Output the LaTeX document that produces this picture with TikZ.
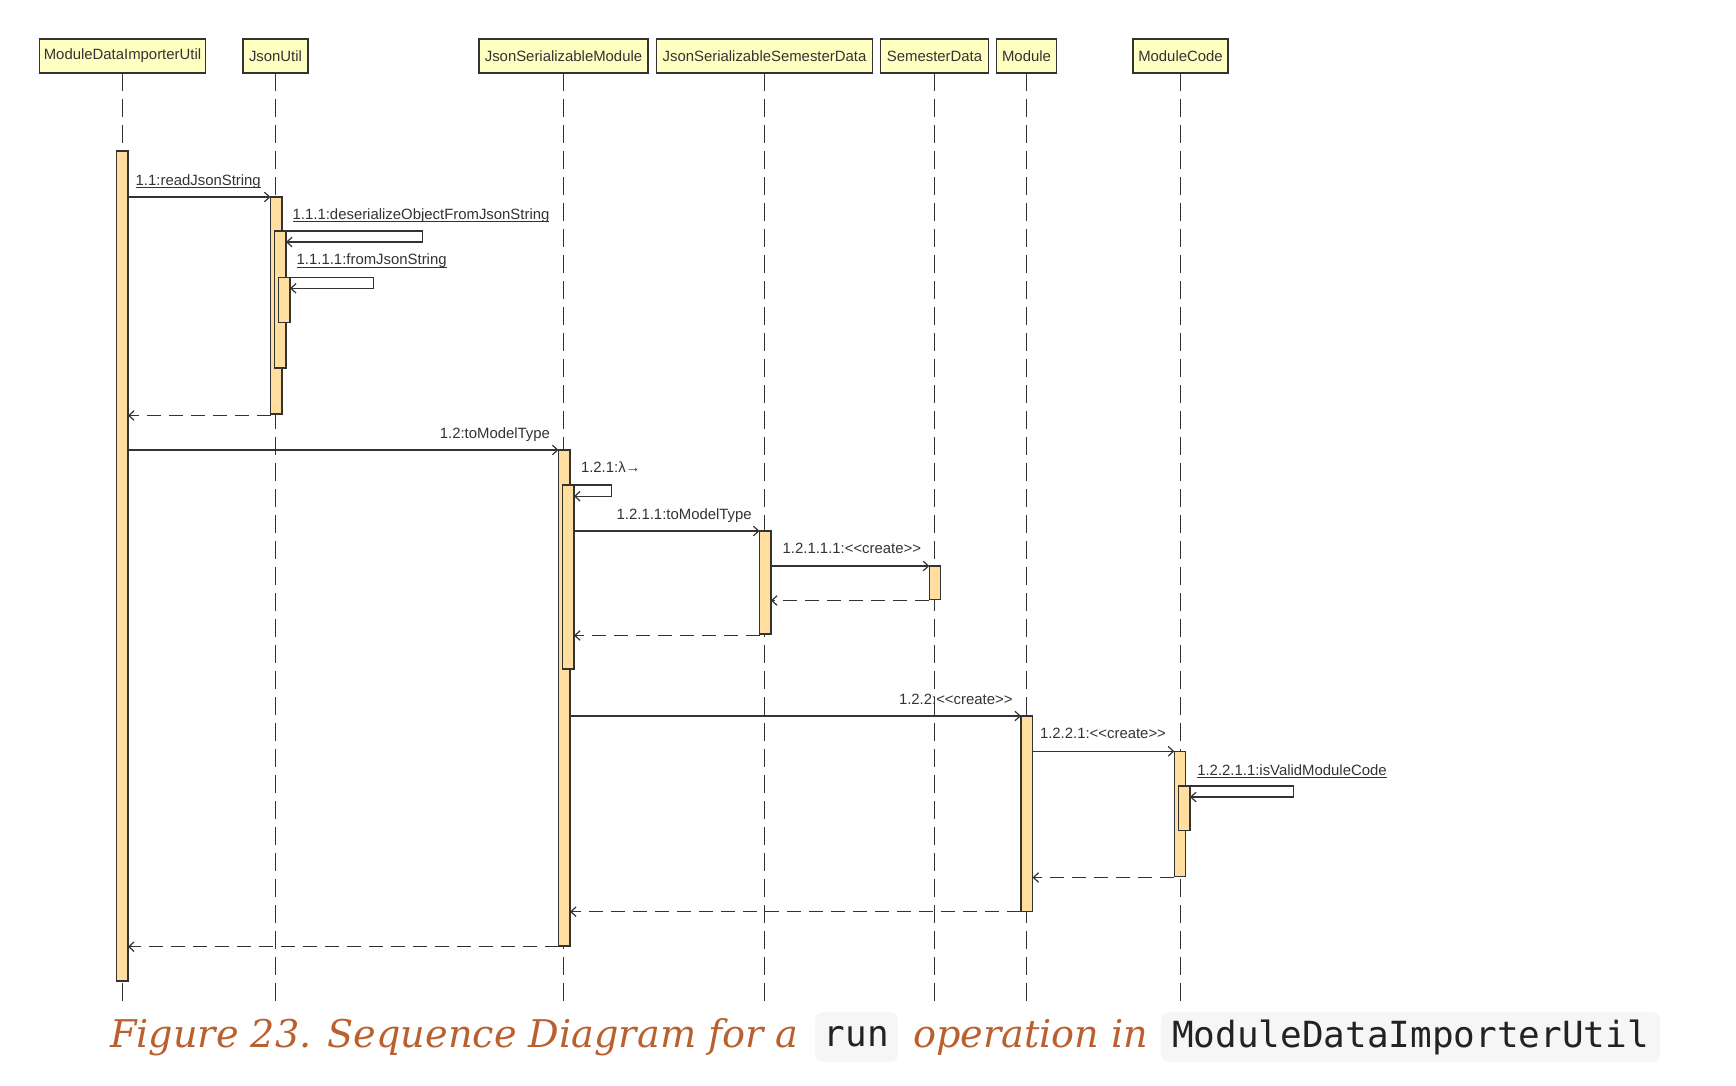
\documentclass[tikz,border=0pt]{standalone}
\usepackage{fontspec}
\setmainfont[Ligatures=TeXOff]{Liberation Sans}
\newfontfamily\capfont{DejaVu Serif}
\newfontfamily\codefont[Ligatures=TeXOff]{DejaVu Sans Mono}
\usetikzlibrary{arrows.meta}
\definecolor{hdrfill}{RGB}{255,255,194}
\definecolor{barfill}{RGB}{255,222,160}
\definecolor{ink}{RGB}{51,51,51}
\definecolor{capcol}{RGB}{186,96,46}
\definecolor{codebg}{RGB}{246,246,246}
\definecolor{codeink}{RGB}{34,34,34}
\tikzset{
  hdr/.style={draw=ink, line width=0.8pt, fill=hdrfill, minimum height=17pt, inner sep=0pt, outer sep=0pt, text=ink},
  life/.style={draw=ink, line width=0.6pt, dash pattern=on 9pt off 4pt},
  bar/.style={draw=ink, line width=0.55pt, fill=barfill, minimum width=5.75pt, inner sep=0pt, outer sep=0pt, anchor=north west},
  msg/.style={draw=ink, line width=0.6pt, -{Straight Barb[length=2.6pt,width=4.8pt]}},
  ret/.style={msg, dash pattern=on 7pt off 4pt},
  lbl/.style={inner sep=0pt, outer sep=0pt, text=ink},
  ul/.style={draw=ink, line width=0.5pt},
  captext/.style={inner sep=0pt, outer sep=0pt, text=capcol, font=\capfont\itshape\fontsize{19.1pt}{23pt}\selectfont},
  codebox/.style={fill=codebg, rounded corners=4pt, minimum height=25pt, inner sep=0pt, text=codeink, font=\codefont\fontsize{18pt}{21pt}\selectfont}
}
\begin{document}
\begin{tikzpicture}[x=0.5pt, y=-0.5pt, font=\fontsize{7.45pt}{9pt}\selectfont]
\useasboundingbox (0,0) rectangle (1736,1086);

% headers
\node[hdr, minimum width=83pt] (mdiu) at (122.5,56) {ModuleDataImporterUtil};
\node[hdr, minimum width=32.5pt] (ju) at (275.5,56) {JsonUtil};
\node[hdr, minimum width=84.5pt] (jsm) at (563.5,56) {JsonSerializableModule};
\node[hdr, minimum width=108pt] (jssd) at (764.5,56) {JsonSerializableSemesterData};
\node[hdr, minimum width=54pt] (sd) at (934.5,56) {SemesterData};
\node[hdr, minimum width=30pt] (mod) at (1026.5,56) {Module};
\node[hdr, minimum width=47.5pt] (mc) at (1180.5,56) {ModuleCode};

% lifelines
\foreach \n in {mdiu,ju,jsm,jssd,sd,mod,mc}{
  \draw[life] (\n.south) -- ++(0,934);
}

% activation bars
\node[bar, minimum height=415pt] (b1) at (116.5,151) {};
\node[bar, minimum height=108.5pt] (b2) at (270.5,197) {};
\node[bar, minimum height=68.5pt] (b3) at (274.5,231) {};
\node[bar, minimum height=22.3pt] (b4) at (278.5,277.7) {};
\node[bar, minimum height=248pt] (b5) at (558.5,450) {};
\node[bar, minimum height=92pt] (b6) at (562.5,485) {};
\node[bar, minimum height=51.5pt] (b7) at (759.5,531) {};
\node[bar, minimum height=16.75pt] (b8) at (929.3,566) {};
\node[bar, minimum height=97.85pt] (b9) at (1021,716) {};
\node[bar, minimum height=62.7pt] (b10) at (1174.3,751.3) {};
\node[bar, minimum height=22.35pt] (b11) at (1178.5,786) {};

% rows
\coordinate (r1) at (0,197);
\coordinate (r4) at (0,415.5);
\coordinate (r5) at (0,450);
\coordinate (r7) at (0,531);
\coordinate (r8) at (0,566);
\coordinate (r9) at (0,600.5);
\coordinate (r10) at (0,635.5);
\coordinate (r11) at (0,716);
\coordinate (r12) at (0,751.3);
\coordinate (r14) at (0,877.5);
\coordinate (r15) at (0,911.7);
\coordinate (r16) at (0,946.7);

% messages
\draw[msg] (b1.east |- r1) -- (b2.west |- r1);
\node[lbl, anchor=base west] (l1) at (135.7,185.2) {1.1:readJsonString};
\draw[ul] ([yshift=-1.25pt]l1.base west) -- ([yshift=-1.25pt]l1.base east);

\draw[msg] (b3.north east) -- ++(136.6,0) |- ([yshift=-5.5pt]b3.north east);
\node[lbl, anchor=base west] (l2) at (292.7,219.2) {1.1.1:deserializeObjectFromJsonString};
\draw[ul] ([yshift=-1.25pt]l2.base west) -- ([yshift=-1.25pt]l2.base east);

\draw[msg] (b4.north east) -- ++(83.3,0) |- ([yshift=-5.3pt]b4.north east);
\node[lbl, anchor=base west] (l3) at (296.7,264.8) {1.1.1.1:fromJsonString};
\draw[ul] ([yshift=-1.25pt]l3.base west) -- ([yshift=-1.25pt]l3.base east);

\draw[ret] (b2.west |- r4) -- (b1.east |- r4);

\draw[msg] (b1.east |- r5) -- (b5.west |- r5);
\node[lbl, anchor=base east] (l5) at (550,438) {1.2:toModelType};

\draw[msg] (b6.north east) -- ++(37.4,0) |- ([yshift=-5.6pt]b6.north east);
\node[lbl, anchor=base west] (l6) at (581,472.7) {1.2.1:λ→};

\draw[msg] (b6.east |- r7) -- (b7.west |- r7);
\node[lbl, anchor=base west] (l7) at (616.7,519) {1.2.1.1:toModelType};

\draw[msg] (b7.east |- r8) -- (b8.west |- r8);
\node[lbl, anchor=base west] (l8) at (782.7,553.3) {1.2.1.1.1:<<create>>};

\draw[ret] (b8.west |- r9) -- (b7.east |- r9);
\draw[ret] (b7.west |- r10) -- (b6.east |- r10);

\draw[msg] (b5.east |- r11) -- (b9.west |- r11);
\node[lbl, anchor=base east] (l11) at (1012.5,704) {1.2.2:<<create>>};

\draw[msg] (b9.east |- r12) -- (b10.west |- r12);
\node[lbl, anchor=base west] (l12) at (1040,738.3) {1.2.2.1:<<create>>};

\draw[msg] (b11.north east) -- ++(103.3,0) |- ([yshift=-5.5pt]b11.north east);
\node[lbl, anchor=base west] (l13) at (1197.3,775.2) {1.2.2.1.1:isValidModuleCode};
\draw[ul] ([yshift=-1.25pt]l13.base west) -- ([yshift=-1.25pt]l13.base east);

\draw[ret] (b10.west |- r14) -- (b9.east |- r14);
\draw[ret] (b9.west |- r15) -- (b5.east |- r15);
\draw[ret] (b5.west |- r16) -- (b1.east |- r16);

% caption
\node[captext, anchor=base west] (cap1) at (110,1047) {Figure 23. Sequence Diagram for a};
\node[codebox, minimum width=41.5pt] (code1) at (856.5,1037) {run};
\node[captext, anchor=base west] (cap2) at (913,1047) {operation in};
\node[codebox, minimum width=249.5pt] (code2) at (1410.5,1037) {ModuleDataImporterUtil};
\end{tikzpicture}
\end{document}
